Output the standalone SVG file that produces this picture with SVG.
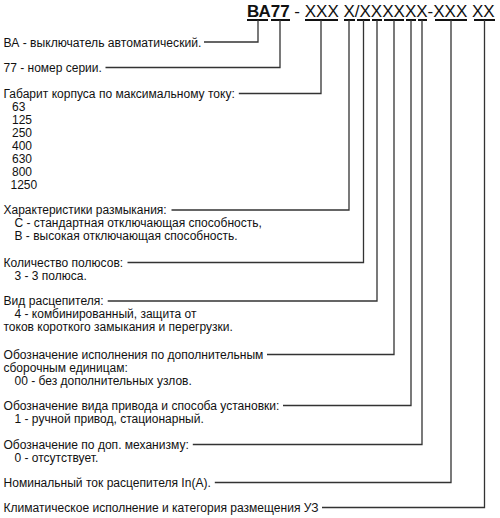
<svg xmlns="http://www.w3.org/2000/svg" width="500" height="518" viewBox="0 0 500 518">
<style>
text{font-family:"Liberation Sans",Arial,sans-serif;fill:#111}
.t{font-size:12px}
.h{font-size:17px}
.b{font-weight:bold}
.ul{stroke:#111;stroke-width:1.8;fill:none}
.c{stroke:#333;stroke-width:1.3;fill:none}
</style>
<rect width="500" height="518" fill="#fff"/>
<g id="code">
<text class="h" x="247" y="17"><tspan class="b">ВА77</tspan> - XXX X/XXXXXX-XXX XX</text>
<path class="ul" d="M247 20H268M271 20H290M305 20H338M344 20H355M357 20H370M372 20H382M384 20H404M406 20H416M418 20H427M435 20H467M474 20H495"/>
</g>
<g id="connectors">
<path class="c" d="M204 42H258V20"/>
<path class="c" d="M105.5 67.5H280V20"/>
<path class="c" d="M238.8 93.5H321V20"/>
<path class="c" d="M171.5 210H349V20"/>
<path class="c" d="M127.5 262.5H363.5V20"/>
<path class="c" d="M107.7 301H377V20"/>
<path class="c" d="M267 354.5H394V20"/>
<path class="c" d="M283 405.5H411V20"/>
<path class="c" d="M192.8 444.5H422V20"/>
<path class="c" d="M214.8 482.5H451V20"/>
<path class="c" d="M322 507.5H484.5V20"/>
</g>
<g id="n-va"><text class="t" x="3.5" y="46.5" textLength="197.9" lengthAdjust="spacingAndGlyphs">ВА - выключатель автоматический.</text></g>
<g id="n-77"><text class="t" x="3.5" y="71.5" textLength="98.3" lengthAdjust="spacingAndGlyphs">77 - номер серии.</text></g>
<g id="n-gabarit"><text class="t" x="3.5" y="97.5" textLength="231.3" lengthAdjust="spacingAndGlyphs">Габарит корпуса по максимальному току:</text>
<text class="t" x="12" y="110.5">63</text>
<text class="t" x="12" y="123.5">125</text>
<text class="t" x="12" y="136.5">250</text>
<text class="t" x="12" y="149.5">400</text>
<text class="t" x="12" y="162.5">630</text>
<text class="t" x="12" y="175.5">800</text>
<text class="t" x="10.5" y="188.5">1250</text></g>
<g id="n-har"><text class="t" x="3.5" y="214" textLength="163.2" lengthAdjust="spacingAndGlyphs">Характеристики размыкания:</text>
<text class="t" x="14.5" y="227">С - стандартная отключающая способность,</text>
<text class="t" x="14.5" y="240">В - высокая отключающая способность.</text></g>
<g id="n-pol"><text class="t" x="3.5" y="266.5" textLength="119.7" lengthAdjust="spacingAndGlyphs">Количество полюсов:</text>
<text class="t" x="14.5" y="279.5">3 - 3 полюса.</text></g>
<g id="n-rasc"><text class="t" x="3.5" y="305" textLength="100.2" lengthAdjust="spacingAndGlyphs">Вид расцепителя:</text>
<text class="t" x="14.5" y="318">4 - комбинированный, защита от</text>
<text class="t" x="3.5" y="331">токов короткого замыкания и перегрузки.</text></g>
<g id="n-isp"><text class="t" x="3.5" y="358.5" textLength="259.9" lengthAdjust="spacingAndGlyphs">Обозначение исполнения по дополнительным</text>
<text class="t" x="3.5" y="371.5">сборочным единицам:</text>
<text class="t" x="14.5" y="384.5">00 - без дополнительных узлов.</text></g>
<g id="n-priv"><text class="t" x="3.5" y="409.5" textLength="275.9" lengthAdjust="spacingAndGlyphs">Обозначение вида привода и способа установки:</text>
<text class="t" x="14.5" y="422.5">1 - ручной привод, стационарный.</text></g>
<g id="n-meh"><text class="t" x="3.5" y="448.5" textLength="185.3" lengthAdjust="spacingAndGlyphs">Обозначение по доп. механизму:</text>
<text class="t" x="14.5" y="461.5">0 - отсутствует.</text></g>
<g id="n-nom"><text class="t" x="3.5" y="486.5" textLength="207.3" lengthAdjust="spacingAndGlyphs">Номинальный ток расцепителя In(A).</text></g>
<g id="n-klim"><text class="t" x="3.5" y="511.5" textLength="315" lengthAdjust="spacingAndGlyphs">Климатическое исполнение и категория размещения УЗ</text></g>
</svg>
